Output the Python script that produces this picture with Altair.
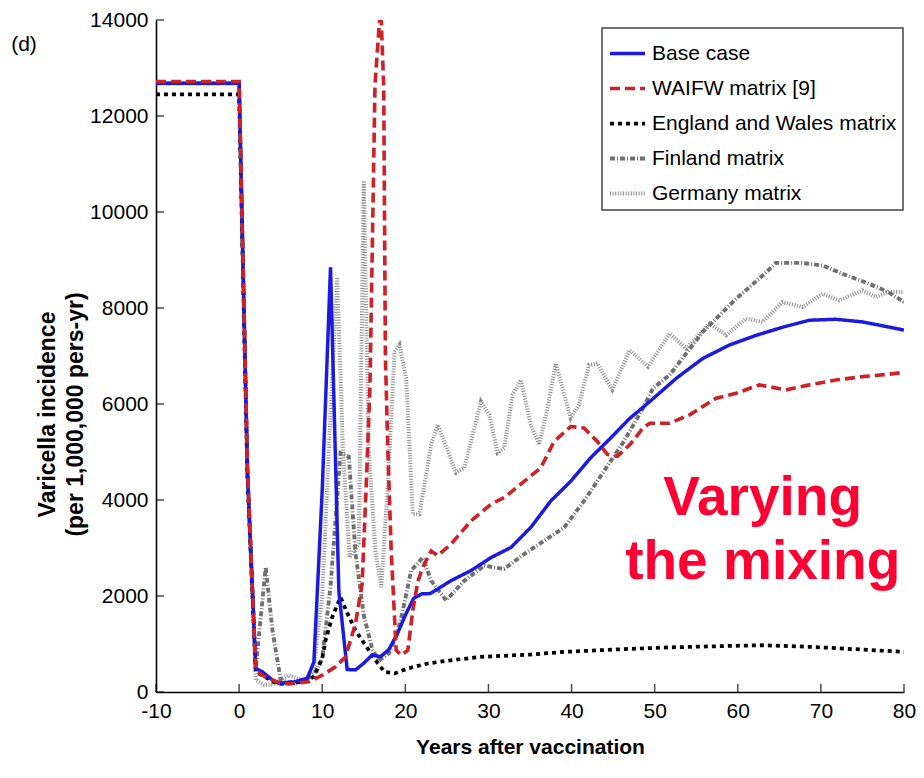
import altair as alt
import pandas as pd

series_names = ["Base case", "WAIFW matrix [9]", "England and Wales matrix",
                "Finland matrix", "Germany matrix"]

base_x = [-10, 0, 1, 2, 2.8, 4, 4.8, 6.8, 8.2, 9, 10, 11, 12, 13, 14, 15, 16, 17, 18, 19, 20,
          21, 22, 23, 25.5, 27.9, 30.3, 32.7, 35.1, 37.5, 39.9, 42.3, 44.7, 47, 49.4, 52.6,
          55.8, 59, 62.2, 65.4, 68.6, 71.8, 75, 78.1, 80]
base_y = [12680, 12680, 4600, 490, 420, 250, 180, 215, 285, 630, 4200, 8850, 2100, 470, 460,
          600, 770, 735, 880, 1200, 1600, 1950, 2046, 2050, 2320, 2530, 2800, 3010, 3430, 3980,
          4390, 4880, 5290, 5700, 6050, 6535, 6950, 7230, 7430, 7600, 7745, 7765, 7710, 7606,
          7540]

waifw_x = [-10, 0, 1, 2, 3, 4.8, 6, 8.4, 10, 11.6, 12.8, 14, 14.8, 15.3, 15.75, 16.35, 16.9,
           17.1, 17.4, 17.6, 17.9, 18.3, 18.9, 19.5, 20.3, 20.9, 21.5, 22.1, 23.1, 23.9, 25.5,
           27.9, 30.3, 31.9, 34.3, 36.3, 37.9, 39.9, 41.5, 43.1, 44.3, 45.5, 47, 48.6, 49.4,
           51.8, 54.2, 57.4, 59.8, 62.6, 65.8, 68.6, 71.8, 75, 78.1, 80]
waifw_y = [12720, 12720, 4700, 450, 330, 190, 170, 215, 350, 525, 730, 1420, 2250, 4330, 6400,
           12650, 14000, 14000, 12600, 7000, 5020, 2940, 870, 770, 870, 1700, 2300, 2600, 2940,
           2840, 3080, 3565, 3910, 4050, 4390, 4670, 5220, 5530, 5500, 5220, 4950, 4910, 5150,
           5500, 5600, 5600, 5775, 6120, 6224, 6398, 6294, 6398, 6500, 6570, 6618, 6660]

ew_x = [-10, 0, 1, 2, 3, 4, 5, 6, 7, 8, 9, 10, 10.4, 11.2, 12.2, 13, 14, 15.6, 16.7, 17.5,
        18.7, 20.3, 22.7, 25, 29.1, 35.1, 39.1, 45.1, 51, 59, 63, 69, 75, 80]
ew_y = [12450, 12450, 4500, 420, 330, 220, 170, 180, 200, 230, 320, 700, 1080, 1560, 1975,
        1650, 1285, 870, 594, 421, 387, 491, 594, 650, 732, 781, 836, 884, 926, 960, 974, 939,
        884, 836]

fin_x = [-10, 0, 1, 2, 3.2, 4, 5, 6, 7, 8, 9, 10, 11, 12.2, 13.2, 14, 15, 16, 16.8, 18, 19,
         19.7, 20.7, 22.1, 23.1, 24.9, 27.1, 29.5, 31.9, 34.3, 36.7, 39.1, 41.5, 43.9, 46.3,
         48.6, 49.8, 51.8, 55.8, 59.8, 63, 64.6, 67.8, 70.2, 72.6, 75.8, 78.1, 80]
fin_y = [12680, 12680, 4600, 500, 2600, 1300, 250, 200, 230, 260, 350, 700, 2200, 4980, 4900,
         2900, 1600, 900, 650, 800, 1200, 1700, 2530, 2800, 2320, 1907, 2321, 2632, 2563, 2874,
         3150, 3426, 3979, 4601, 5223, 5913, 6327, 6605, 7503, 8193, 8677, 8940, 8940, 8885,
         8712, 8504, 8332, 8124]

ger_x = [-10, 0, 1, 2, 3, 4, 5, 6, 7, 8, 9, 10, 11, 11.8, 12.5, 13.3, 14.4, 15, 15.6, 16.4,
         17.1, 17.9, 18.7, 19.3, 20.1, 20.9, 21.7, 23.1, 23.9, 26.1, 27.1, 29.1, 30.1, 31.1,
         31.9, 32.9, 33.9, 35.1, 36.1, 37.1, 38.1, 39.9, 40.9, 42.1, 43.1, 44.9, 47, 49.2,
         51.8, 53.8, 56.6, 58.6, 61, 63, 65.4, 67.8, 70.2, 72.2, 75, 76.6, 78.1, 80]
ger_y = [12680, 12680, 4600, 250, 150, 150, 250, 350, 280, 250, 500, 2000, 5800, 8640, 5000,
         2800, 3100, 10650, 5016, 2943, 2183, 4326, 7088, 7233, 6535, 3703, 3703, 5154, 5568,
         4567, 4670, 6052, 5775, 4981, 5084, 6190, 6501, 5568, 5154, 5913, 6846, 5706, 5983,
         6812, 6846, 6294, 7123, 6777, 7467, 7157, 7675, 7434, 7779, 7710, 8124, 8021, 8297,
         8159, 8367, 8228, 8332, 8332]

series_x = [base_x, waifw_x, ew_x, fin_x, ger_x]
series_y = [base_y, waifw_y, ew_y, fin_y, ger_y]

colors = ["#1a1ae0", "#cc2228", "#000000", "#707070", "#8a8a8a"]
dashes = [[1, 0], [10, 5], [4, 4], [5, 2, 1, 2], [1, 1.6]]
widths = [3.5, 4, 4, 0.9, 1.1]

x_ticks = [-10, 0, 10, 20, 30, 40, 50, 60, 70, 80]
y_ticks = [0, 2000, 4000, 6000, 8000, 10000, 12000, 14000]

note_lines = ["Varying", "the mixing"]
note_x = [63, 63]
note_y = [3689, 2363]

rows = []
for name, xs, ys in zip(series_names, series_x, series_y):
    for a, b in zip(xs, ys):
        rows.append({"series": name, "year": a, "incidence": b})
df = pd.DataFrame(rows)

W, H = 748, 672
FONT = "Liberation Sans"

xscale = alt.Scale(domain=[-10, 80], nice=False, zero=False)
yscale = alt.Scale(domain=[0, 14000], nice=False)

x_axis = alt.Axis(values=x_ticks, grid=False, tickSize=0, labelFontSize=21, labelFont=FONT,
                  labelColor="black", labelPadding=8, labelExpr="'' + datum.value",
                  domainColor="black", domainWidth=1.6, title="Years after vaccination",
                  titleFont=FONT, titleFontSize=21, titleFontWeight="bold", titleColor="black",
                  titlePadding=15, labelFlush=False)
y_axis = alt.Axis(values=y_ticks, grid=False, tickSize=0, labelFontSize=21, labelFont=FONT,
                  labelColor="black", labelPadding=8, labelExpr="'' + datum.value",
                  domainColor="black", domainWidth=1.6,
                  title=["Varicella incidence", "(per 1,000,000 pers-yr)"],
                  titleFont=FONT, titleFontSize=23, titleFontWeight="bold", titleColor="black",
                  titleX=-97, titleY=394, titleLineHeight=28, labelFlush=False)

legend = alt.Legend(title=None, orient="none", legendX=446, legendY=8, symbolType="stroke",
                    symbolSize=1225, labelFontSize=21, labelFont=FONT, labelColor="black",
                    rowPadding=5, labelOffset=5, padding=6, strokeColor="#444444",
                    fillColor="white", labelLimit=400)

color_enc = alt.Color("series:N", scale=alt.Scale(domain=series_names, range=colors), legend=legend)
dash_enc = alt.StrokeDash("series:N", scale=alt.Scale(domain=series_names, range=dashes), legend=legend)
width_enc = alt.StrokeWidth("series:N", scale=alt.Scale(domain=series_names, range=widths), legend=legend)

x_enc = alt.X("year:Q", scale=xscale, axis=x_axis)
y_enc = alt.Y("incidence:Q", scale=yscale, axis=y_axis)


def line_layer(name):
    return alt.Chart(df).transform_filter(alt.datum.series == name).mark_line(clip=True).encode(
        x=x_enc, y=y_enc, color=color_enc, strokeDash=dash_enc, strokeWidth=width_enc,
    )


draw_order = ["Germany matrix", "Finland matrix", "England and Wales matrix", "Base case",
              "WAIFW matrix [9]"]
lines = [line_layer(n) for n in draw_order]

ytick_df = pd.DataFrame({"incidence": y_ticks})
xtick_df = pd.DataFrame({"year": x_ticks})
ytick_layer = alt.Chart(ytick_df).mark_tick(
    orient="horizontal", size=8, thickness=1.5, color="black").encode(
    y=y_enc, x=alt.value(4))
xtick_layer = alt.Chart(xtick_df).mark_tick(
    orient="vertical", size=8, thickness=1.5, color="black").encode(
    x=x_enc, y=alt.value(H - 4))

note_df = pd.DataFrame({"label": note_lines, "year": note_x, "incidence": note_y})
note_layer = alt.Chart(note_df).mark_text(
    font=FONT, fontSize=55, fontWeight="bold", color="#ff0033", align="center",
    baseline="alphabetic").encode(x=x_enc, y=y_enc, text="label:N")

panel_df = pd.DataFrame({"t": ["(d)"]})
panel_layer = alt.Chart(panel_df).mark_text(
    font=FONT, fontSize=21, color="black", align="center", baseline="middle").encode(
    x=alt.value(-132), y=alt.value(25), text="t:N")

chart = alt.layer(*lines, ytick_layer, xtick_layer, note_layer, panel_layer).properties(
    width=W, height=H,
    autosize=alt.AutoSizeParams(type="none"),
    padding={"left": 148, "top": 12, "right": 12, "bottom": 76},
).configure_view(stroke=None).configure_legend(strokeWidth=1.5)

chart.save("out.html", embed_options={"renderer": "svg", "actions": False})
